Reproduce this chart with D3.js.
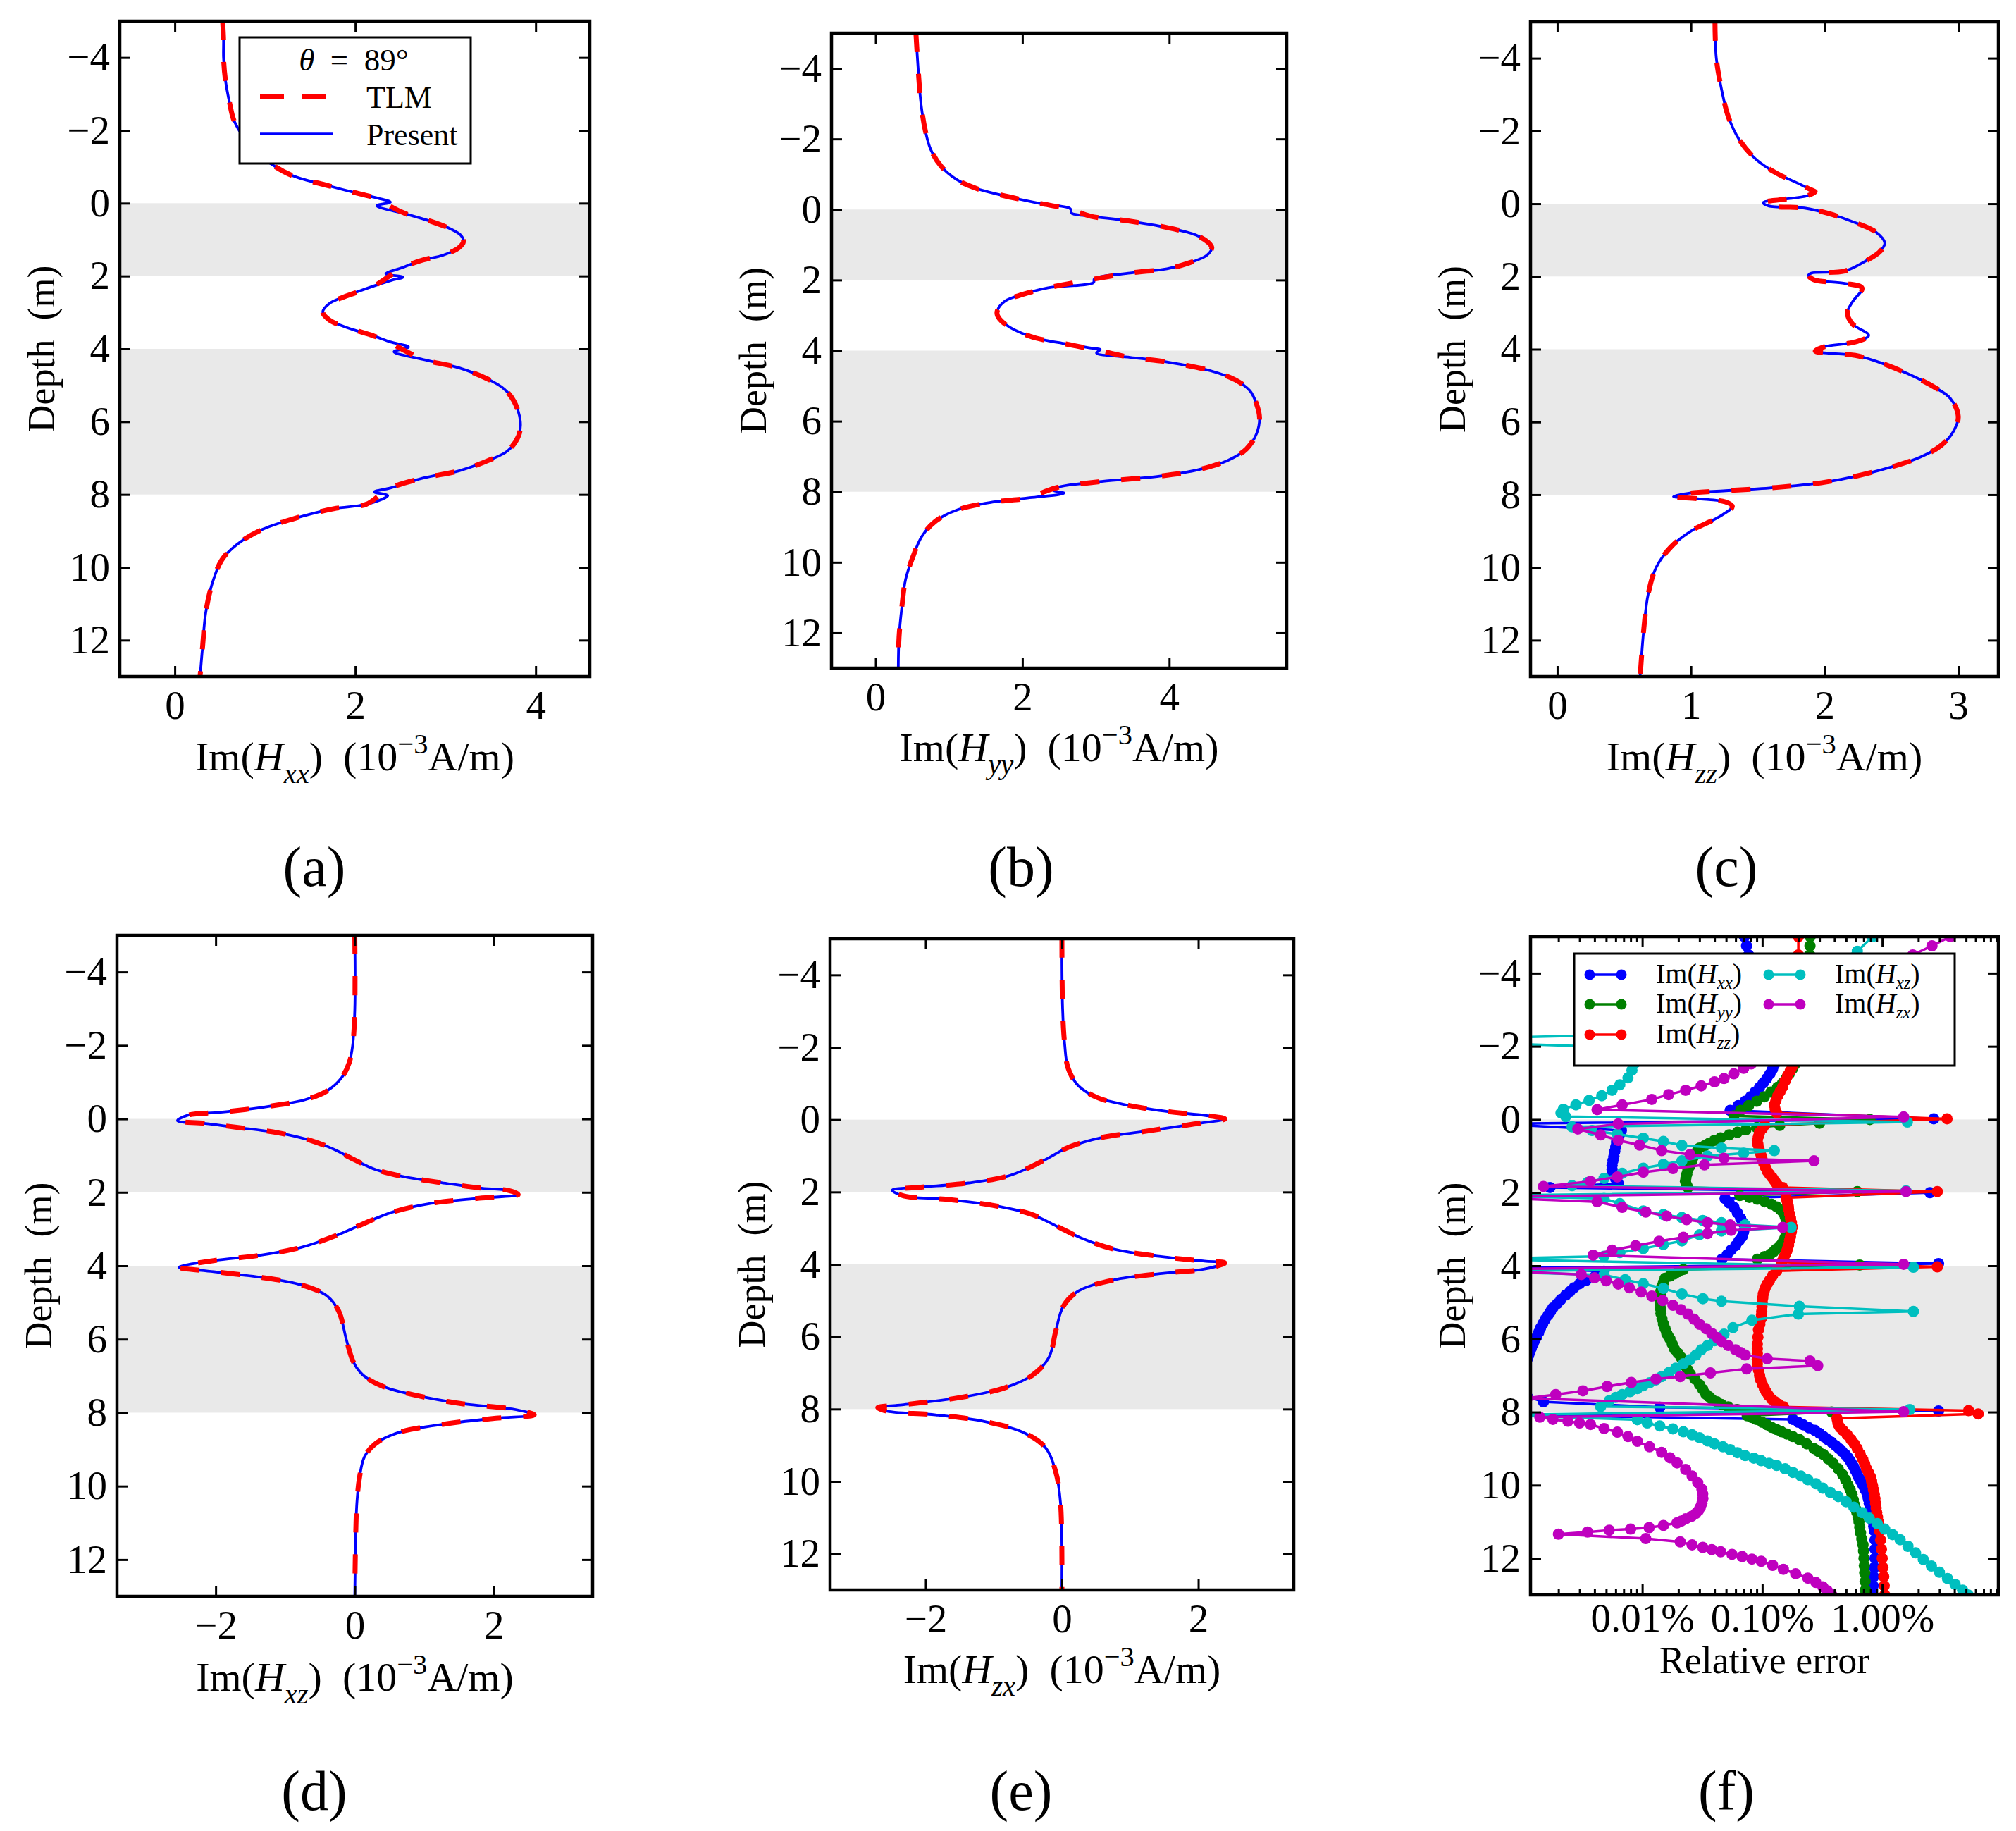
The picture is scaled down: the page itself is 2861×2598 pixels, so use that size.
<!DOCTYPE html>
<html>
<head>
<meta charset="utf-8">
<script src="https://cdn.jsdelivr.net/npm/d3@7"></script>
<style>
  body { margin: 0; background: #fff; }
  svg { display: block; }
  text { font-family: "Liberation Serif", serif; fill: #000; white-space: pre; }
</style>
</head>
<body>
<div id="fig"></div>
<script>
// depth ticks and the two shaded layers (m)
const depthTicks = [-4, -2, 0, 2, 4, 6, 8, 10, 12];
const layers = [[0, 2], [4, 8]];

// (a) Im(Hxx), [depth, value]
const hxxTLM = [[-5,0.53],[-4.5,0.54],[-4,0.54],[-3.4,0.56],[-2.72,0.61],[-2.31,0.65],[-1.97,0.72],[-1.5,0.85],[-1.09,1.06],[-0.75,1.31],[-0.5,1.67],[-0.27,2.03],[-0.1,2.28],[0.1,2.4],[0.3,2.57],[0.5,2.84],[0.71,3.06],[0.88,3.17],[1.05,3.2],[1.22,3.15],[1.43,2.97],[1.56,2.75],[1.77,2.52],[2.0,2.38],[2.27,2.21],[2.56,1.89],[2.76,1.71],[2.99,1.64],[3.2,1.71],[3.4,1.89],[3.65,2.21],[3.85,2.4],[4.05,2.55],[4.29,2.75],[4.52,3.15],[4.83,3.47],[5.1,3.65],[5.44,3.76],[5.99,3.83],[6.39,3.81],[6.8,3.69],[7.07,3.47],[7.35,3.15],[7.55,2.75],[7.82,2.39],[8.0,2.28],[8.27,2.12],[8.39,1.76],[8.67,1.31],[8.98,0.95],[9.39,0.68],[9.8,0.52],[10.48,0.41],[11.29,0.34],[12.11,0.31],[13,0.28]];
const hxxPresent = [[-5,0.53],[-4.5,0.54],[-4,0.54],[-3.4,0.56],[-2.72,0.61],[-2.31,0.65],[-1.97,0.72],[-1.5,0.85],[-1.09,1.06],[-0.75,1.31],[-0.5,1.67],[-0.27,2.03],[-0.14,2.25],[-0.03,2.39],[0.07,2.24],[0.3,2.57],[0.5,2.84],[0.71,3.06],[0.88,3.17],[1.05,3.2],[1.22,3.15],[1.43,2.97],[1.56,2.75],[1.77,2.52],[1.94,2.34],[2.03,2.53],[2.12,2.4],[2.27,2.21],[2.56,1.89],[2.76,1.71],[2.99,1.64],[3.2,1.71],[3.4,1.89],[3.65,2.21],[3.81,2.39],[3.95,2.59],[4.08,2.43],[4.29,2.75],[4.52,3.15],[4.83,3.47],[5.1,3.65],[5.44,3.76],[5.99,3.83],[6.39,3.81],[6.8,3.69],[7.07,3.47],[7.35,3.15],[7.55,2.75],[7.82,2.39],[7.93,2.21],[8.03,2.36],[8.27,2.12],[8.39,1.76],[8.67,1.31],[8.98,0.95],[9.39,0.68],[9.8,0.52],[10.48,0.41],[11.29,0.34],[12.11,0.31],[13,0.28]];

// (b) Im(Hyy)
const hyyTLM = [[-5,0.55],[-4,0.58],[-2.98,0.62],[-2.22,0.68],[-1.71,0.75],[-1.21,0.9],[-0.83,1.12],[-0.6,1.37],[-0.41,1.71],[-0.19,2.2],[0.0,2.66],[0.19,2.93],[0.32,3.43],[0.51,3.97],[0.72,4.36],[0.93,4.53],[1.08,4.58],[1.3,4.51],[1.52,4.26],[1.68,3.97],[1.8,3.47],[2.0,2.9],[2.22,2.35],[2.41,2.0],[2.6,1.76],[2.86,1.66],[3.0,1.66],[3.24,1.76],[3.59,2.1],[3.81,2.59],[4.0,3.05],[4.19,3.47],[4.32,3.97],[4.57,4.56],[4.83,4.9],[5.14,5.1],[5.52,5.19],[5.9,5.23],[6.35,5.19],[6.79,5.05],[7.11,4.8],[7.37,4.41],[7.56,3.87],[7.71,3.08],[7.87,2.49],[8.0,2.3],[8.17,2.1],[8.29,1.61],[8.51,1.12],[8.83,0.82],[9.27,0.63],[9.84,0.51],[10.48,0.41],[11.24,0.36],[12.13,0.32],[13,0.31]];
const hyyPresent = [[-5,0.55],[-4,0.58],[-2.98,0.62],[-2.22,0.68],[-1.71,0.75],[-1.21,0.9],[-0.83,1.12],[-0.6,1.37],[-0.41,1.71],[-0.19,2.2],[-0.04,2.64],[0.0,2.66],[0.1,2.67],[0.19,2.93],[0.32,3.43],[0.51,3.97],[0.72,4.36],[0.93,4.53],[1.08,4.58],[1.3,4.51],[1.52,4.26],[1.68,3.97],[1.8,3.47],[1.97,2.98],[2.07,2.97],[2.22,2.35],[2.41,2.0],[2.6,1.76],[2.86,1.66],[3.0,1.66],[3.24,1.76],[3.59,2.1],[3.81,2.59],[3.94,2.98],[3.97,3.06],[4.07,3.01],[4.19,3.47],[4.32,3.97],[4.57,4.56],[4.83,4.9],[5.14,5.1],[5.52,5.19],[5.9,5.23],[6.35,5.19],[6.79,5.05],[7.11,4.8],[7.37,4.41],[7.56,3.87],[7.71,3.08],[7.87,2.49],[7.96,2.42],[8.04,2.57],[8.17,2.1],[8.29,1.61],[8.51,1.12],[8.83,0.82],[9.27,0.63],[9.84,0.51],[10.48,0.41],[11.24,0.36],[12.13,0.32],[13,0.31]];

// (c) Im(Hzz) – both methods overlap
const hzz = [[-5,1.18],[-4,1.19],[-3.13,1.23],[-2.39,1.28],[-1.77,1.36],[-1.21,1.49],[-0.84,1.64],[-0.53,1.82],[-0.38,1.9],[-0.33,1.93],[-0.22,1.87],[-0.12,1.69],[-0.03,1.54],[0.06,1.58],[0.12,1.85],[0.27,2.03],[0.52,2.23],[0.77,2.38],[1.08,2.45],[1.33,2.41],[1.57,2.31],[1.85,2.15],[1.91,1.9],[1.97,1.88],[2.09,1.92],[2.19,2.15],[2.32,2.28],[2.69,2.21],[3.0,2.17],[3.31,2.21],[3.62,2.33],[3.8,2.23],[3.93,2.0],[4.05,1.93],[4.11,2.03],[4.17,2.23],[4.36,2.41],[4.67,2.62],[5.04,2.82],[5.35,2.94],[5.85,3.0],[6.28,2.96],[6.65,2.87],[6.96,2.72],[7.33,2.41],[7.64,2.03],[7.8,1.64],[7.89,1.26],[7.95,1.0],[8.05,0.87],[8.11,1.05],[8.2,1.26],[8.32,1.31],[8.61,1.21],[9.0,1.0],[9.44,0.85],[10.0,0.74],[10.74,0.68],[11.6,0.65],[13,0.62]];

// (d) Im(Hxz)
const hxz = [[-5,0],[-2.97,0],[-2.01,-0.03],[-1.53,-0.08],[-1.12,-0.19],[-0.76,-0.4],[-0.52,-0.72],[-0.34,-1.24],[-0.18,-1.93],[-0.1,-2.4],[0.05,-2.55],[0.12,-2.17],[0.23,-1.7],[0.38,-1.1],[0.59,-0.63],[0.83,-0.3],[1.1,-0.02],[1.38,0.3],[1.58,0.72],[1.76,1.33],[1.88,1.79],[1.95,2.21],[2.06,2.35],[2.16,1.79],[2.3,1.1],[2.54,0.54],[2.9,0.07],[3.2,-0.3],[3.5,-0.77],[3.72,-1.38],[3.86,-2.03],[4.04,-2.53],[4.16,-2.03],[4.32,-1.33],[4.52,-0.77],[4.82,-0.4],[5.24,-0.23],[6.02,-0.12],[6.62,-0.02],[6.98,0.12],[7.28,0.4],[7.52,0.86],[7.76,1.56],[7.9,2.26],[8.06,2.58],[8.15,2.03],[8.3,1.33],[8.54,0.63],[8.84,0.3],[9.2,0.14],[9.74,0.07],[10.46,0.03],[11.65,0.01],[13,0]];

// (e) Im(Hzx)
const hzx = [[-5,0],[-3.08,0.01],[-2.1,0.04],[-1.43,0.09],[-0.94,0.24],[-0.61,0.52],[-0.39,0.99],[-0.21,1.61],[-0.12,2.09],[-0.02,2.39],[0.12,1.94],[0.32,1.23],[0.5,0.57],[0.77,0.09],[1.14,-0.28],[1.54,-0.76],[1.75,-1.37],[1.87,-2.09],[1.95,-2.49],[2.11,-2.32],[2.2,-1.71],[2.36,-1.04],[2.6,-0.47],[2.97,-0.05],[3.27,0.28],[3.58,0.76],[3.79,1.47],[3.91,2.09],[3.96,2.39],[4.13,2.09],[4.25,1.47],[4.43,0.76],[4.74,0.24],[5.16,0.02],[5.84,-0.09],[6.57,-0.19],[7.06,-0.43],[7.42,-0.85],[7.69,-1.52],[7.88,-2.32],[7.96,-2.7],[8.06,-2.56],[8.16,-1.85],[8.34,-1.14],[8.64,-0.57],[9.07,-0.24],[9.74,-0.09],[10.6,-0.02],[13,0]];

// (f) relative error in %, [depth, percent]
const errHxx = [[-5.0,0.071],[-4.75,0.074],[-4.5,0.077],[-4.25,0.08],[-4.0,0.083],[-3.75,0.086],[-3.5,0.089],[-3.25,0.092],[-3.0,0.095],[-2.75,0.099],[-2.5,0.103],[-2.25,0.108],[-2.0,0.113],[-1.75,0.12],[-1.5,0.126],[-1.38,0.122],[-1.25,0.116],[-1.12,0.109],[-1.0,0.102],[-0.88,0.095],[-0.75,0.087],[-0.62,0.08],[-0.5,0.072],[-0.38,0.063],[-0.25,0.054],[-0.02,2.69],[0.12,0.0006],[0.3,0.0067],[0.4,0.0065],[0.5,0.0063],[0.62,0.0061],[0.75,0.006],[0.87,0.0059],[1.0,0.0058],[1.12,0.0057],[1.25,0.0056],[1.37,0.0056],[1.5,0.0057],[1.62,0.006],[1.75,0.0063],[1.86,0.0017],[2.0,2.5],[2.16,0.049],[2.28,0.053],[2.4,0.058],[2.55,0.062],[2.7,0.066],[2.82,0.069],[2.95,0.072],[3.07,0.07],[3.2,0.068],[3.32,0.064],[3.45,0.06],[3.57,0.055],[3.7,0.051],[3.82,0.046],[3.94,2.95],[4.06,0.0008],[4.15,0.0048],[4.22,0.0044],[4.3,0.004],[4.4,0.0034],[4.49,0.003],[4.6,0.0027],[4.7,0.0025],[4.8,0.0023],[4.92,0.0021],[5.04,0.00195],[5.15,0.0018],[5.25,0.00172],[5.35,0.00164],[5.47,0.00155],[5.59,0.00148],[5.7,0.00142],[5.82,0.00137],[5.94,0.00132],[6.04,0.00127],[6.14,0.00123],[6.25,0.00119],[6.35,0.00116],[6.45,0.00113],[6.55,0.0011],[6.7,0.00095],[7.1,0.00085],[7.35,0.0009],[7.58,0.0011],[7.72,0.0015],[7.87,0.014],[7.97,2.95],[8.08,0.0008],[8.2,0.18],[8.28,0.2],[8.35,0.22],[8.43,0.245],[8.5,0.275],[8.58,0.3],[8.67,0.325],[8.75,0.35],[8.83,0.38],[8.92,0.41],[9.0,0.437],[9.08,0.465],[9.17,0.495],[9.25,0.52],[9.33,0.54],[9.42,0.56],[9.5,0.58],[9.6,0.6],[9.7,0.62],[9.8,0.64],[9.9,0.665],[10.0,0.69],[10.12,0.72],[10.25,0.75],[10.37,0.765],[10.5,0.78],[10.62,0.795],[10.75,0.81],[10.87,0.825],[11.0,0.84],[11.12,0.85],[11.25,0.86],[11.5,0.87],[11.75,0.87],[12.0,0.87],[12.25,0.86],[12.5,0.85],[12.75,0.84],[13.0,0.83]];
const errHyy = [[-5.0,0.251],[-4.75,0.25],[-4.5,0.249],[-4.0,0.246],[-3.5,0.241],[-3.0,0.235],[-2.5,0.226],[-2.0,0.213],[-1.75,0.2],[-1.5,0.186],[-1.38,0.178],[-1.25,0.168],[-1.12,0.158],[-1.0,0.148],[-0.88,0.134],[-0.75,0.118],[-0.62,0.104],[-0.5,0.09],[-0.38,0.077],[-0.25,0.066],[-0.1,0.058],[0.0,0.79],[0.1,0.3],[0.16,0.14],[0.22,0.09],[0.28,0.073],[0.35,0.062],[0.42,0.053],[0.5,0.045],[0.57,0.04],[0.65,0.036],[0.72,0.033],[0.78,0.03],[0.88,0.0285],[1.0,0.027],[1.12,0.026],[1.27,0.025],[1.38,0.024],[1.5,0.0235],[1.6,0.0231],[1.69,0.0229],[1.78,0.0233],[1.86,0.024],[1.97,0.62],[2.08,0.065],[2.13,0.078],[2.18,0.091],[2.25,0.105],[2.32,0.12],[2.39,0.132],[2.47,0.142],[2.55,0.15],[2.64,0.155],[2.74,0.158],[2.85,0.161],[2.95,0.162],[3.05,0.161],[3.15,0.158],[3.25,0.154],[3.36,0.148],[3.46,0.14],[3.55,0.13],[3.62,0.124],[3.68,0.117],[3.75,0.105],[3.82,0.091],[3.98,0.65],[4.1,0.022],[4.16,0.02],[4.22,0.0186],[4.28,0.017],[4.34,0.0155],[4.46,0.015],[4.58,0.0145],[4.69,0.0143],[4.8,0.0142],[4.92,0.0141],[5.04,0.0141],[5.17,0.0142],[5.3,0.0143],[5.45,0.0146],[5.59,0.015],[5.72,0.0155],[5.85,0.016],[5.93,0.0165],[6.0,0.017],[6.14,0.0178],[6.28,0.0186],[6.39,0.0198],[6.5,0.021],[6.62,0.022],[6.75,0.023],[6.85,0.024],[6.96,0.0251],[7.1,0.0275],[7.25,0.03],[7.38,0.032],[7.51,0.0339],[7.58,0.036],[7.65,0.038],[7.72,0.042],[7.79,0.0457],[7.86,0.052],[7.93,0.0617],[8.0,0.38],[8.1,0.075],[8.15,0.082],[8.2,0.0891],[8.28,0.1],[8.35,0.11],[8.42,0.12],[8.48,0.132],[8.54,0.145],[8.6,0.16],[8.67,0.18],[8.75,0.204],[8.87,0.235],[9.0,0.27],[9.08,0.295],[9.16,0.324],[9.28,0.355],[9.4,0.39],[9.55,0.43],[9.71,0.468],[9.85,0.495],[10.0,0.52],[10.12,0.54],[10.25,0.56],[10.4,0.575],[10.54,0.589],[10.65,0.602],[10.75,0.615],[10.87,0.628],[11.0,0.64],[11.15,0.65],[11.3,0.66],[11.47,0.676],[11.63,0.692],[11.8,0.699],[12.0,0.705],[12.2,0.71],[12.4,0.715],[12.63,0.72],[12.87,0.724],[13.0,0.725]];
const errHzz = [[-5.0,0.2],[-4.5,0.2],[-4.0,0.2],[-3.5,0.2],[-3.0,0.198],[-2.5,0.195],[-2.0,0.19],[-1.75,0.185],[-1.45,0.178],[-1.32,0.171],[-1.2,0.163],[-1.05,0.155],[-0.89,0.148],[-0.77,0.141],[-0.65,0.135],[-0.52,0.13],[-0.4,0.126],[-0.29,0.128],[-0.18,0.132],[-0.02,3.47],[0.15,0.105],[0.25,0.1],[0.35,0.095],[0.46,0.093],[0.57,0.091],[0.68,0.092],[0.8,0.094],[0.9,0.096],[0.99,0.098],[1.1,0.1],[1.2,0.103],[1.3,0.106],[1.41,0.11],[1.5,0.115],[1.6,0.122],[1.68,0.127],[1.76,0.132],[1.86,0.148],[1.97,2.88],[2.14,0.158],[2.22,0.161],[2.3,0.163],[2.38,0.165],[2.46,0.166],[2.58,0.169],[2.7,0.172],[2.82,0.175],[2.94,0.178],[3.07,0.175],[3.2,0.172],[3.31,0.169],[3.43,0.166],[3.52,0.163],[3.6,0.16],[3.69,0.156],[3.78,0.151],[3.9,0.145],[4.03,2.88],[4.14,0.132],[4.27,0.122],[4.4,0.115],[4.5,0.11],[4.6,0.106],[4.68,0.104],[4.77,0.102],[4.88,0.101],[5.0,0.1],[5.12,0.0995],[5.25,0.099],[5.35,0.0985],[5.45,0.098],[5.6,0.0955],[5.75,0.093],[5.95,0.092],[6.14,0.091],[6.27,0.091],[6.4,0.091],[6.55,0.091],[6.69,0.091],[6.85,0.093],[7.0,0.095],[7.12,0.097],[7.24,0.1],[7.35,0.104],[7.45,0.108],[7.55,0.113],[7.65,0.12],[7.72,0.128],[7.79,0.138],[7.86,0.151],[7.96,5.25],[8.05,6.31],[8.17,0.42],[8.25,0.425],[8.34,0.43],[8.42,0.445],[8.5,0.47],[8.62,0.51],[8.75,0.55],[8.87,0.585],[9.0,0.62],[9.15,0.655],[9.3,0.69],[9.42,0.715],[9.55,0.74],[9.66,0.77],[9.78,0.8],[9.89,0.815],[10.0,0.83],[10.12,0.845],[10.25,0.86],[10.37,0.87],[10.5,0.88],[10.62,0.89],[10.75,0.9],[10.87,0.915],[11.0,0.93],[11.25,0.95],[11.5,0.97],[11.75,0.985],[12.0,1.0],[12.25,1.015],[12.5,1.03],[12.75,1.04],[13.0,1.05]];
const errHxz = [[-5.0,0.83],[-4.6,0.62],[-4.25,0.35],[-4.0,0.18],[-3.5,0.09],[-3.0,0.045],[-2.6,0.025],[-2.35,0.018],[-2.22,0.0004],[-2.1,0.0004],[-1.95,0.0105],[-1.75,0.0095],[-1.55,0.0087],[-1.35,0.0082],[-1.14,0.0076],[-0.95,0.0065],[-0.8,0.0056],[-0.65,0.0046],[-0.52,0.0036],[-0.4,0.0028],[-0.28,0.0022],[-0.18,0.0021],[-0.08,0.0023],[0.07,1.62],[0.2,0.0026],[0.3,0.0038],[0.4,0.0062],[0.51,0.0102],[0.6,0.015],[0.71,0.0214],[0.78,0.0457],[0.85,0.126],[0.92,0.07],[1.0,0.035],[1.13,0.0214],[1.23,0.015],[1.33,0.0102],[1.47,0.0068],[1.61,0.0048],[1.72,0.0035],[1.81,0.0026],[1.95,1.58],[2.08,0.0004],[2.16,0.0048],[2.3,0.0065],[2.5,0.0102],[2.6,0.015],[2.68,0.0214],[2.76,0.032],[2.82,0.0457],[2.88,0.072],[2.95,0.174],[3.05,0.0457],[3.15,0.03],[3.32,0.0214],[3.42,0.015],[3.53,0.0102],[3.64,0.0065],[3.74,0.0048],[3.82,0.0004],[4.04,1.82],[4.15,0.0004],[4.25,0.0048],[4.38,0.0072],[4.49,0.0102],[4.62,0.015],[4.77,0.0214],[4.9,0.032],[4.97,0.0457],[5.11,0.204],[5.25,1.82],[5.32,0.2],[5.49,0.082],[5.69,0.057],[5.87,0.048],[6.05,0.04],[6.18,0.035],[6.3,0.031],[6.44,0.028],[6.57,0.025],[6.68,0.022],[6.8,0.019],[6.92,0.0167],[7.03,0.0145],[7.12,0.013],[7.2,0.0115],[7.28,0.0102],[7.36,0.0091],[7.44,0.0079],[7.52,0.0068],[7.6,0.006],[7.69,0.0053],[7.85,0.0045],[7.93,1.7],[8.08,0.0006],[8.21,0.0091],[8.3,0.011],[8.38,0.014],[8.46,0.018],[8.54,0.022],[8.62,0.026],[8.7,0.03],[8.79,0.035],[8.87,0.04],[8.95,0.047],[9.03,0.054],[9.11,0.062],[9.19,0.072],[9.26,0.085],[9.33,0.098],[9.4,0.114],[9.46,0.132],[9.55,0.155],[9.65,0.18],[9.75,0.21],[9.85,0.24],[9.96,0.28],[10.08,0.32],[10.2,0.37],[10.31,0.43],[10.45,0.5],[10.6,0.58],[10.75,0.68],[10.9,0.78],[11.05,0.91],[11.2,1.05],[11.35,1.22],[11.49,1.41],[11.67,1.64],[11.85,1.9],[12.03,2.2],[12.21,2.57],[12.38,3.0],[12.55,3.5],[12.71,4.05],[12.87,4.68],[13.0,5.2]];
const errHzx = [[-5.0,3.7],[-4.75,2.6],[-4.5,1.8],[-4.0,0.9],[-3.5,0.45],[-3.0,0.25],[-2.5,0.15],[-2.0,0.11],[-1.75,0.095],[-1.52,0.081],[-1.4,0.07],[-1.25,0.058],[-1.12,0.048],[-1.03,0.04],[-0.92,0.031],[-0.8,0.023],[-0.68,0.0166],[-0.55,0.012],[-0.4,0.0068],[-0.27,0.0042],[-0.07,1.51],[0.12,0.0063],[0.26,0.0029],[0.42,0.0045],[0.57,0.0063],[0.7,0.0095],[0.85,0.0145],[0.96,0.025],[1.06,0.048],[1.13,0.27],[1.24,0.033],[1.34,0.018],[1.44,0.0102],[1.57,0.0062],[1.69,0.0037],[1.83,0.0015],[1.97,1.58],[2.12,0.0004],[2.25,0.0042],[2.4,0.0068],[2.53,0.0107],[2.64,0.016],[2.74,0.0234],[2.82,0.035],[2.88,0.054],[2.95,0.148],[3.03,0.055],[3.12,0.035],[3.22,0.022],[3.33,0.0138],[3.45,0.0088],[3.57,0.0056],[3.71,0.0039],[3.96,1.51],[4.1,0.0004],[4.24,0.0031],[4.33,0.004],[4.41,0.005],[4.5,0.0063],[4.6,0.0078],[4.72,0.0098],[4.83,0.012],[4.95,0.0148],[5.08,0.018],[5.2,0.021],[5.32,0.024],[5.46,0.027],[5.6,0.03],[5.72,0.034],[5.85,0.038],[5.96,0.042],[6.07,0.0457],[6.18,0.052],[6.3,0.06],[6.37,0.066],[6.44,0.072],[6.54,0.11],[6.6,0.25],[6.73,0.29],[6.82,0.074],[6.93,0.037],[7.03,0.0207],[7.1,0.013],[7.19,0.0081],[7.3,0.0051],[7.42,0.0032],[7.52,0.0019],[7.62,0.0011],[7.99,1.51],[8.14,0.0014],[8.2,0.0018],[8.25,0.0024],[8.3,0.003],[8.34,0.0037],[8.45,0.0048],[8.55,0.0062],[8.67,0.0076],[8.8,0.0091],[8.95,0.0115],[9.1,0.0145],[9.25,0.017],[9.39,0.0195],[9.57,0.023],[9.75,0.026],[9.93,0.029],[10.11,0.0314],[10.24,0.0319],[10.37,0.032],[10.5,0.0314],[10.6,0.0305],[10.69,0.0295],[10.77,0.028],[10.85,0.0258],[10.92,0.023],[10.98,0.0212],[11.03,0.0195],[11.1,0.015],[11.16,0.0114],[11.2,0.008],[11.23,0.0053],[11.28,0.0035],[11.34,0.002],[11.46,0.0107],[11.55,0.0207],[11.63,0.026],[11.7,0.032],[11.76,0.038],[11.82,0.045],[11.89,0.056],[11.95,0.068],[12.02,0.082],[12.08,0.098],[12.19,0.122],[12.3,0.15],[12.42,0.19],[12.54,0.24],[12.66,0.28],[12.78,0.32],[12.89,0.35],[13.0,0.38]];

const errSeries = [
  { name: "xx", color: "#0000ff", data: errHxx },
  { name: "yy", color: "#008000", data: errHyy },
  { name: "zz", color: "#ff0000", data: errHzz },
  { name: "xz", color: "#00bfbf", data: errHxz },
  { name: "zx", color: "#bf00bf", data: errHzx }
];

const W = 2861, H = 2598;
const TICK_FS = 57, LABEL_FS = 54, MATH_FS = 58;

const svg = d3.select("#fig").append("svg")
  .attr("width", W)
  .attr("height", H);

svg.append("rect").attr("width", W).attr("height", H).attr("fill", "#fff");

// text with italic / sub / superscript pieces
function mathText(text, parts, fs, subScale = 0.7, subShift = 0.3) {
  let shift = 0;
  parts.forEach(([s, kind]) => {
    const t = text.append("tspan").text(s);
    let target = 0;
    if (kind === "sub") { target = subShift; t.attr("font-size", fs * subScale).attr("font-style", "italic"); }
    else if (kind === "sup") { target = -0.42; t.attr("font-size", fs * 0.7); }
    else if (kind === "i") t.attr("font-style", "italic");
    if (target !== shift) t.attr("dy", (target - shift) * fs);
    shift = target;
  });
}

function styleAxis(g) {
  g.select(".domain").remove();
  g.selectAll(".tick line").attr("stroke", "#000").attr("stroke-width", 3);
  g.selectAll("text")
    .attr("font-family", "'Liberation Serif', serif")
    .attr("font-size", TICK_FS)
    .attr("fill", "#000");
}

function drawPanel(p) {
  const y = d3.scaleLinear().domain([-5, 13]).range([p.top, p.bottom]);
  const x = p.x;
  const g = svg.append("g");

  const clipId = "clip-" + p.id;
  svg.append("clipPath").attr("id", clipId)
    .append("rect")
    .attr("x", p.left).attr("y", p.top)
    .attr("width", p.right - p.left).attr("height", p.bottom - p.top);

  g.selectAll("rect.layer")
    .data(layers)
    .join("rect")
    .attr("class", "layer")
    .attr("x", p.left)
    .attr("width", p.right - p.left)
    .attr("y", d => y(d[0]))
    .attr("height", d => y(d[1]) - y(d[0]))
    .attr("fill", "#e9e9e9");

  const plot = g.append("g").attr("clip-path", `url(#${clipId})`);
  p.draw(plot, x, y);

  // ticks inside on all four sides
  g.append("g").attr("transform", `translate(${p.left},0)`)
    .call(d3.axisLeft(y).tickValues(depthTicks).tickSize(-15).tickPadding(14).tickFormat(d3.format("d")))
    .call(styleAxis);
  g.append("g").attr("transform", `translate(${p.right},0)`)
    .call(d3.axisRight(y).tickValues(depthTicks).tickSize(-15).tickFormat(""))
    .call(styleAxis);

  const bottom = d3.axisBottom(x).tickValues(p.xTicks).tickSize(-15).tickPadding(p.tickPad)
    .tickFormat(p.xFormat || d3.format("d"));
  g.append("g").attr("transform", `translate(0,${p.bottom})`).call(bottom).call(styleAxis);
  g.append("g").attr("transform", `translate(0,${p.top})`)
    .call(d3.axisTop(x).tickValues(p.xTicks).tickSize(-15).tickFormat(""))
    .call(styleAxis);

  if (p.minor) {
    g.append("g").attr("transform", `translate(0,${p.bottom})`)
      .call(d3.axisBottom(x).tickValues(p.minor).tickSize(-8).tickFormat(""))
      .call(styleAxis);
    g.append("g").attr("transform", `translate(0,${p.top})`)
      .call(d3.axisTop(x).tickValues(p.minor).tickSize(-8).tickFormat(""))
      .call(styleAxis);
  }

  g.append("rect")
    .attr("x", p.left).attr("y", p.top)
    .attr("width", p.right - p.left).attr("height", p.bottom - p.top)
    .attr("fill", "none").attr("stroke", "#000").attr("stroke-width", 4.5);

  // axis labels
  g.append("text")
    .attr("transform", `translate(${p.left - 112},${(p.top + p.bottom) / 2}) rotate(-90)`)
    .attr("text-anchor", "middle")
    .attr("dy", "0.35em")
    .attr("font-size", LABEL_FS)
    .text("Depth  (m)");

  const fs = p.plainLabel ? LABEL_FS : MATH_FS;
  const xl = g.append("text")
    .attr("x", (p.left + p.right) / 2)
    .attr("y", p.bottom + p.labelOff + fs * 0.35)
    .attr("text-anchor", "middle")
    .attr("font-size", fs);
  mathText(xl, p.xlabel, fs);

  svg.append("text")
    .attr("x", p.tag[0]).attr("y", p.tag[1])
    .attr("text-anchor", "middle")
    .attr("dy", "0.35em")
    .attr("font-size", 80)
    .text(p.tag[2]);

  return { x, y, g };
}

function fieldLabel(sub) {
  return [["Im(", ""], ["H", "i"], [sub, "sub"], [")  (10", ""], ["\u22123", "sup"], ["A/m)", ""]];
}

// TLM (red dashed) drawn over Present (blue solid)
function profileDrawer(present, tlm) {
  return (plot, x, y) => {
    const line = d3.line().x(d => x(d[1])).y(d => y(d[0])).curve(d3.curveCatmullRom.alpha(0.5));
    plot.append("path").datum(present).attr("d", line)
      .attr("fill", "none").attr("stroke", "#0000ff").attr("stroke-width", 3.8);
    plot.append("path").datum(tlm).attr("d", line)
      .attr("fill", "none").attr("stroke", "#ff0000").attr("stroke-width", 7)
      .attr("stroke-dasharray", "27,31");
  };
}

const panels = [
  { id: "a", left: 170, right: 837, top: 30, bottom: 960,
    x: d3.scaleLinear().domain([-0.61, 4.6]).range([170, 837]),
    xTicks: [0, 2, 4], tickPad: 20, labelOff: 113,
    xlabel: fieldLabel("xx"), tag: [446, 1229, "(a)"],
    draw: profileDrawer(hxxPresent, hxxTLM) },
  { id: "b", left: 1180, right: 1826, top: 47, bottom: 948,
    x: d3.scaleLinear().domain([-0.6, 5.6]).range([1180, 1826]),
    xTicks: [0, 2, 4], tickPad: 20, labelOff: 112,
    xlabel: fieldLabel("yy"), tag: [1449, 1229, "(b)"],
    draw: profileDrawer(hyyPresent, hyyTLM) },
  { id: "c", left: 2172, right: 2836, top: 31, bottom: 960,
    x: d3.scaleLinear().domain([-0.2, 3.3]).range([2172, 2836]),
    xTicks: [0, 1, 2, 3], tickPad: 20, labelOff: 113,
    xlabel: fieldLabel("zz"), tag: [2450, 1229, "(c)"],
    draw: profileDrawer(hzz, hzz) },
  { id: "d", left: 166, right: 841, top: 1327, bottom: 2265,
    x: d3.scaleLinear().domain([-3.42, 3.42]).range([166, 841]),
    xTicks: [-2, 0, 2], tickPad: 20, labelOff: 114,
    xlabel: fieldLabel("xz"), tag: [446, 2540, "(d)"],
    draw: profileDrawer(hxz, hxz) },
  { id: "e", left: 1178, right: 1836, top: 1332, bottom: 2256,
    x: d3.scaleLinear().domain([-3.4, 3.4]).range([1178, 1836]),
    xTicks: [-2, 0, 2], tickPad: 20, labelOff: 112,
    xlabel: fieldLabel("zx"), tag: [1449, 2540, "(e)"],
    draw: profileDrawer(hzx, hzx) }
];

panels.forEach(drawPanel);

// legend of panel (a)
(function () {
  const lg = svg.append("g");
  lg.append("rect").attr("x", 340).attr("y", 53).attr("width", 328).attr("height", 179)
    .attr("fill", "#fff").attr("stroke", "#000").attr("stroke-width", 3);
  const t = lg.append("text").attr("x", 502).attr("y", 100).attr("text-anchor", "middle").attr("font-size", 45);
  mathText(t, [["\u03b8", "i"], ["  =  89\u00b0", ""]], 45);
  lg.append("line").attr("x1", 369).attr("x2", 462).attr("y1", 137).attr("y2", 137)
    .attr("stroke", "#ff0000").attr("stroke-width", 7).attr("stroke-dasharray", "34,25");
  lg.append("text").attr("x", 520).attr("y", 153).attr("font-size", 44).text("TLM");
  lg.append("line").attr("x1", 369).attr("x2", 472).attr("y1", 190).attr("y2", 190)
    .attr("stroke", "#0000ff").attr("stroke-width", 3.5);
  lg.append("text").attr("x", 520).attr("y", 206).attr("font-size", 44).text("Present");
})();

// (f) relative error, log axis
const fMinor = [];
[0.001, 0.01, 0.1, 1].forEach(dec => [2, 3, 4, 5, 6, 7, 8, 9].forEach(m => fMinor.push(+(dec * m).toPrecision(2))));
const fx = d3.scaleLog().domain([0.00117, 9.3]).range([2172, 2836]);
drawPanel({
  id: "f", left: 2172, right: 2836, top: 1329, bottom: 2263,
  x: fx, xTicks: [0.01, 0.1, 1], minor: fMinor.filter(v => v > 0.00117 && v < 9.3),
  xFormat: v => d3.format(".2f")(v) + "%",
  tickPad: 12, labelOff: 92, plainLabel: true,
  xlabel: [["Relative error", ""]], tag: [2450, 2540, "(f)"],
  draw: (plot, x, y) => {
    const line = d3.line().x(d => x(d[1])).y(d => y(d[0]));
    errSeries.forEach(s => {
      const sg = plot.append("g");
      sg.append("path").datum(s.data).attr("d", line)
        .attr("fill", "none").attr("stroke", s.color).attr("stroke-width", 3.5);
      sg.selectAll("circle").data(s.data).join("circle")
        .attr("cx", d => x(d[1])).attr("cy", d => y(d[0])).attr("r", 8)
        .attr("fill", s.color);
    });
  }
});

// legend of panel (f)
(function () {
  const lg = svg.append("g");
  lg.append("rect").attr("x", 2234).attr("y", 1353).attr("width", 540).attr("height", 159)
    .attr("fill", "#fff").attr("stroke", "#000").attr("stroke-width", 3);
  const rows = [1383, 1425, 1468];
  errSeries.forEach((s, i) => {
    const col = i < 3 ? 0 : 1;
    const row = i < 3 ? i : i - 3;
    const x0 = col === 0 ? 2256 : 2510;
    const yy = rows[row];
    lg.append("line").attr("x1", x0).attr("x2", x0 + 45).attr("y1", yy).attr("y2", yy)
      .attr("stroke", s.color).attr("stroke-width", 3.5);
    lg.selectAll(null).data([x0, x0 + 45]).join("circle")
      .attr("cx", d => d).attr("cy", yy).attr("r", 7.5).attr("fill", s.color);
    const t = lg.append("text").attr("x", col === 0 ? 2350 : 2604).attr("y", yy + 12).attr("font-size", 40);
    mathText(t, [["Im(", ""], ["H", "i"], [s.name, "sub"], [")", ""]], 40, 0.62, 0.2);
  });
})();
</script>
</body>
</html>
